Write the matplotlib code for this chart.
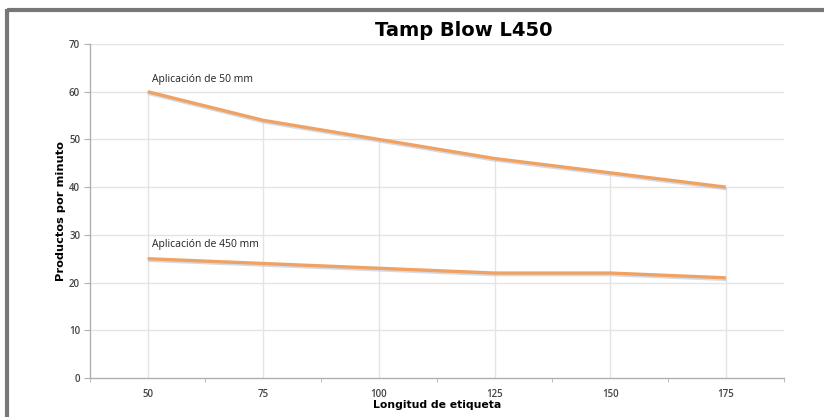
import matplotlib.pyplot as plt
import matplotlib.patheffects as pe
from matplotlib.lines import Line2D

# longitud de etiqueta (mm)
longitudes = [50, 75, 100, 125, 150, 175]
# productos por minuto
prod_50mm = [60, 54, 50, 46, 43, 40]
prod_450mm = [25, 24, 23, 22, 22, 21]
series_labels = ['Aplicación de 50 mm', 'Aplicación de 450 mm']
y_ticks = [0, 10, 20, 30, 40, 50, 60, 70]

fig = plt.figure(figsize=(8.24, 4.17), dpi=100)
ax = fig.add_axes([0.109, 0.0935, 0.842, 0.801])

ax.set_xlim(37.5, 187.5)
ax.set_ylim(0, 70)

# rejilla horizontal
for y in y_ticks[1:]:
    ax.axhline(y, color='#e4e4e4', lw=1, zorder=0)
# lineas verticales desde 0 hasta la serie superior
tops = [max(a, b) for a, b in zip(prod_50mm, prod_450mm)]
ax.vlines(longitudes, 0, tops, color='#e4e4e4', lw=1, zorder=0)

line_color = '#f0a262'
shadow = [pe.SimpleLineShadow(offset=(0.5, -1.2), shadow_color='#b8c4d8', alpha=0.6),
          pe.Normal()]
for vals in (prod_50mm, prod_450mm):
    ax.plot(longitudes, vals, color=line_color, lw=2.4, solid_capstyle='butt',
            path_effects=shadow, zorder=3)

ax.text(longitudes[0] + 1, prod_50mm[0] + 2.5, series_labels[0],
        fontsize=7.5, family='Open Sans', color='#222222', va='center')
ax.text(longitudes[0] + 1, prod_450mm[0] + 2.9, series_labels[1],
        fontsize=7.5, family='Open Sans', color='#222222', va='center')

# ejes
for side in ['top', 'right']:
    ax.spines[side].set_visible(False)
for side in ['left', 'bottom']:
    ax.spines[side].set_color('#b0b0b0')
    ax.spines[side].set_linewidth(1)

ax.set_yticks(y_ticks)
ax.set_xticks(longitudes)
ax.set_xticks([37.5 + 25 * i for i in range(7)], minor=True)
ax.tick_params(axis='x', which='major', length=0, pad=8, labelsize=7, labelcolor='#444444')
ax.tick_params(axis='x', which='minor', length=3, color='#b0b0b0', direction='out')
ax.tick_params(axis='y', length=4, color='#b0b0b0', labelsize=7, labelcolor='#444444', pad=3)
for lbl in ax.get_xticklabels() + ax.get_yticklabels():
    lbl.set_family('Open Sans')
    lbl.set_fontweight('semibold')

ax.set_xlabel('Longitud de etiqueta', fontsize=7.8, fontweight='bold', labelpad=0)
ax.set_ylabel('Productos por minuto', fontsize=8.2, fontweight='bold', labelpad=2)

fig.text(0.563, 0.928, 'Tamp Blow L450', fontsize=14, fontweight='bold',
         ha='center', va='center')

# marco gris (arriba e izquierda)
fig.add_artist(Line2D([0.008, 1.0], [0.977, 0.977], color='#777777', lw=3,
                      transform=fig.transFigure, solid_capstyle='butt'))
fig.add_artist(Line2D([0.009, 0.009], [0.0, 0.979], color='#777777', lw=3,
                      transform=fig.transFigure, solid_capstyle='butt'))

fig.savefig('out.png', dpi=100)
